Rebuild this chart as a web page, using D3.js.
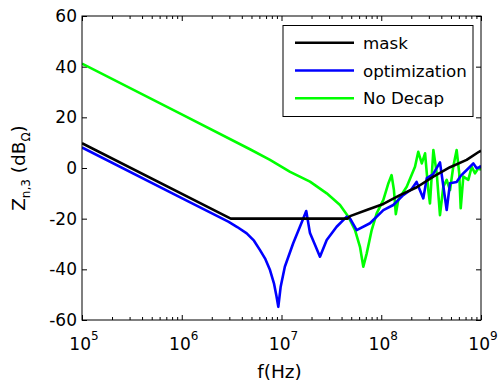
<!DOCTYPE html>
<html><head><meta charset="utf-8">
<script src="https://cdn.jsdelivr.net/npm/d3@7"></script>
<style>
html,body{margin:0;padding:0;background:#fff;}
svg{display:block;font-family:"DejaVu Sans",sans-serif;}
</style></head>
<body>
<svg id="chart" width="498" height="384"></svg>
<script>
// ---- data ----
const seriesNames = ["mask", "optimization", "No Decap"];
const seriesColors = ["#000000", "#0000ff", "#00ff00"];

const maskFreq = [1e5, 3.1e6, 4.6e7, 4.87e7, 7.14e7, 1.05e8, 1.54e8, 2.27e8, 3.33e8, 4.89e8, 7.18e8, 9.55e8, 1e9];
const maskDb   = [9.8, -20, -20, -19, -16.6, -14.2, -10.7, -7.6, -3.4, 0.3, 3.2, 6.4, 6.8];

const optFreq = [1e5, 1e6, 2.93e6, 3.6e6, 4.48e6, 5.3e6, 6.09e6, 6.9e6, 7.67e6, 8.4e6, 8.9e6, 9.29e6, 9.8e6, 1.08e7, 1.31e7, 1.60e7, 1.77e7, 1.93e7, 2.17e7, 2.43e7, 2.84e7, 3.57e7, 4.51e7, 4.86e7, 5.67e7, 7.71e7, 1.05e8, 1.32e8, 1.66e8, 2.0e8, 2.26e8, 2.64e8, 2.86e8, 3.3e8, 3.88e8, 4.53e8, 4.89e8, 5.70e8, 6.3e8, 7.19e8, 8.38e8, 9.06e8, 9.77e8, 1e9];
const optDb   = [8.1, -11.9, -21.2, -23.3, -25.8, -28.7, -32.4, -36, -40.3, -45.5, -50.5, -54.8, -47, -39, -29.7, -21.3, -17, -25.7, -30.4, -35, -28.4, -23.2, -19.2, -19.9, -24.5, -21.8, -16.6, -14.6, -10.7, -8.5, -5.5, -12, -4, -2.5, 2.2, -16.6, -6, -5.5, -3, -0.8, 1.8, -0.1, 0.4, 1];

const noDecapFreq = [1e5, 1e6, 4.83e6, 7.67e6, 1.22e7, 1.93e7, 2.84e7, 3.86e7, 4.68e7, 5.46e7, 6.12e7, 6.61e7, 7.15e7, 8.02e7, 9.0e7, 1.05e8, 1.18e8, 1.27e8, 1.34e8, 1.40e8, 1.48e8, 1.80e8, 2.18e8, 2.35e8, 2.55e8, 2.75e8, 2.96e8, 3.08e8, 3.33e8, 3.60e8, 3.88e8, 4.19e8, 4.53e8, 4.89e8, 5.27e8, 5.70e8, 6.05e8, 6.26e8, 6.65e8, 7.46e8, 8.07e8, 8.71e8, 9.40e8, 1e9];
const noDecapDb   = [41.2, 21.2, 7.4, 3.2, -1.5, -5.4, -10, -14.6, -19.2, -24.5, -31.1, -39, -33.7, -24.5, -17.9, -12.6, -6, -2.8, -8.7, -18.2, -12.6, -7.4, 0.5, 6.4, 1.8, 5.8, -8.7, -14, 7.1, -2.1, -18.6, -7.4, -4.7, -8.7, 0.5, 7.1, -2.1, -15.9, -3.4, -4.7, 0.5, -2.1, -0.1, -0.8];

const xTickExponents = [5, 6, 7, 8, 9];
const yTicks = [-60, -40, -20, 0, 20, 40, 60];
const xLabel = "f(Hz)";

// ---- layout ----
const svg = d3.select("#chart");
const L = 82, R = 481, T = 16, B = 320;
const x = d3.scaleLog().domain([1e5, 1e9]).range([L, R]);
const y = d3.scaleLinear().domain([-60, 60]).range([B, T]);

const majorX = xTickExponents.map(e => Math.pow(10, e));
const minorX = [];
for (let e = 5; e < 9; e++) for (let k = 2; k <= 9; k++) minorX.push(k * Math.pow(10, e));

function styleAxis(g) {
  g.select(".domain").remove();
  g.selectAll(".tick line").attr("stroke", "#000").attr("stroke-width", 1);
  g.selectAll(".tick text").remove();
}
svg.append("g").attr("transform", `translate(0,${B})`)
  .call(d3.axisBottom(x).tickValues(majorX).tickSize(-5)).call(styleAxis);
svg.append("g").attr("transform", `translate(0,${B})`)
  .call(d3.axisBottom(x).tickValues(minorX).tickSize(-3)).call(styleAxis);
svg.append("g").attr("transform", `translate(0,${T})`)
  .call(d3.axisTop(x).tickValues(majorX).tickSize(-5)).call(styleAxis);
svg.append("g").attr("transform", `translate(0,${T})`)
  .call(d3.axisTop(x).tickValues(minorX).tickSize(-3)).call(styleAxis);
svg.append("g").attr("transform", `translate(${L},0)`)
  .call(d3.axisLeft(y).tickValues(yTicks).tickSize(-5)).call(styleAxis);
svg.append("g").attr("transform", `translate(${R},0)`)
  .call(d3.axisRight(y).tickValues(yTicks).tickSize(-5)).call(styleAxis);

svg.append("clipPath").attr("id", "clip").append("rect")
  .attr("x", L).attr("y", T).attr("width", R - L).attr("height", B - T);

const line = d3.line().x(d => x(d[0])).y(d => y(d[1]));
const series = [
  maskFreq.map((f, i) => [f, maskDb[i]]),
  optFreq.map((f, i) => [f, optDb[i]]),
  noDecapFreq.map((f, i) => [f, noDecapDb[i]])
];
const gLines = svg.append("g").attr("clip-path", "url(#clip)");
[2, 1, 0].forEach(i => {
  gLines.append("path").datum(series[i])
    .attr("fill", "none").attr("stroke", seriesColors[i])
    .attr("stroke-width", 2.6).attr("stroke-linejoin", "round")
    .attr("d", line);
});

svg.append("rect").attr("x", L).attr("y", T).attr("width", R - L).attr("height", B - T)
  .attr("fill", "none").attr("stroke", "#000").attr("stroke-width", 1);

svg.append("g").selectAll("text").data(yTicks).join("text")
  .attr("x", 77).attr("y", d => y(d)).attr("dy", "0.36em")
  .attr("text-anchor", "end").attr("font-size", 17).attr("fill", "#000")
  .text(d => d);

const xl = svg.append("g").selectAll("text").data(xTickExponents).join("text")
  .attr("x", d => x(Math.pow(10, d)) + 2).attr("y", 350)
  .attr("text-anchor", "middle").attr("font-size", 17).attr("fill", "#000");
xl.append("tspan").text("10");
xl.append("tspan").attr("font-size", 12).attr("dy", -10).text(d => d);

svg.append("text").attr("x", (L + R) / 2 - 2).attr("y", 378)
  .attr("text-anchor", "middle").attr("font-size", 18.5).attr("fill", "#000")
  .text(xLabel);

const yl = svg.append("text")
  .attr("transform", `translate(25,${(T + B) / 2}) rotate(-90)`)
  .attr("text-anchor", "middle").attr("font-size", 18.5).attr("fill", "#000");
yl.append("tspan").text("Z");
yl.append("tspan").attr("font-size", 12).attr("dy", 5).text("n,3");
yl.append("tspan").attr("dy", -5).text(" (dB");
yl.append("tspan").attr("font-size", 12).attr("dy", 5).text("Ω");
yl.append("tspan").attr("dy", -5).text(")");

const lg = svg.append("g");
lg.append("rect").attr("x", 283).attr("y", 25.5).attr("width", 190).attr("height", 91)
  .attr("fill", "#fff").attr("stroke", "#000").attr("stroke-width", 1);
const legY = [42.7, 70.5, 98.3];
seriesNames.forEach((n, i) => {
  lg.append("line").attr("x1", 295).attr("x2", 354).attr("y1", legY[i]).attr("y2", legY[i])
    .attr("stroke", seriesColors[i]).attr("stroke-width", 2.6);
  lg.append("text").attr("x", 363).attr("y", legY[i]).attr("dy", "0.36em")
    .attr("font-size", 16.7).attr("fill", "#000").text(n);
});
</script>
</body></html>
